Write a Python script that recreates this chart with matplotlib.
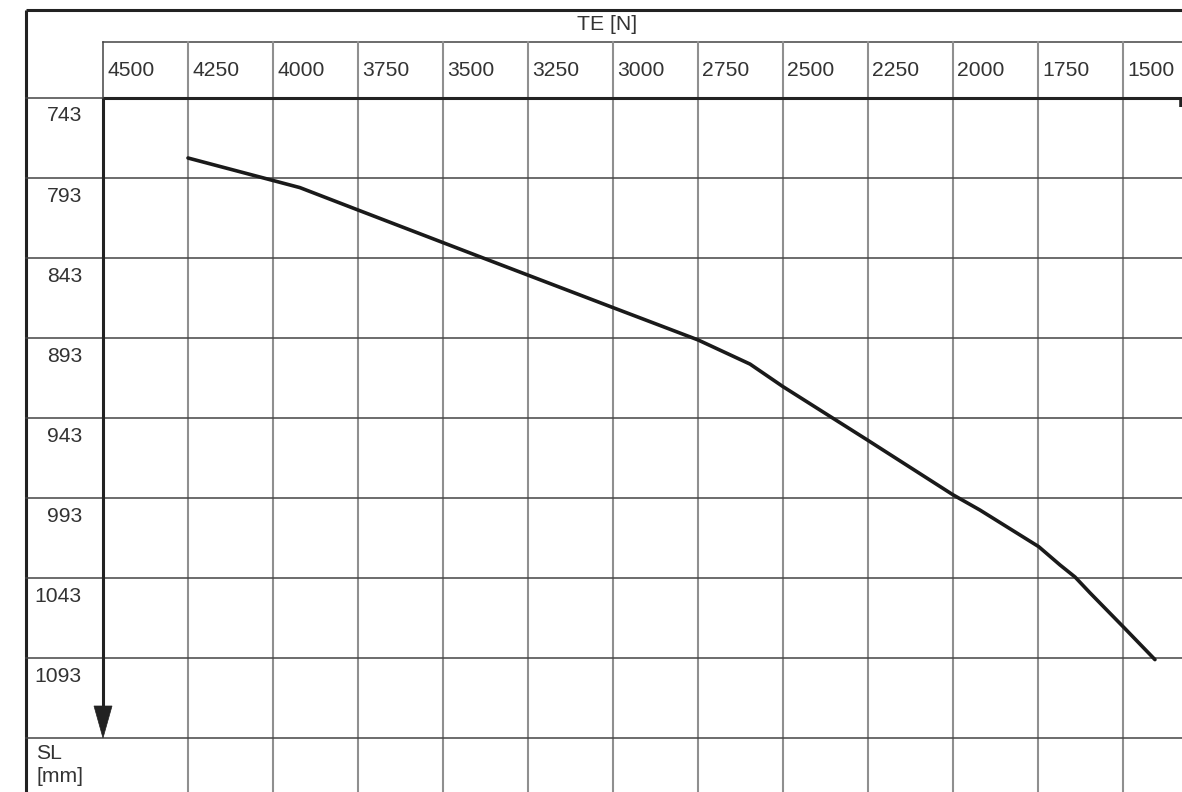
import matplotlib
matplotlib.use('Agg')
import matplotlib.pyplot as plt
from matplotlib.patches import Polygon
from matplotlib.transforms import blended_transform_factory, offset_copy, Affine2D

# ---------------- data ----------------
te_ticks = [4500, 4250, 4000, 3750, 3500, 3250, 3000, 2750, 2500, 2250, 2000, 1750, 1500]
sl_ticks = [743, 793, 843, 893, 943, 993, 1043, 1093]
te_curve = [4250, 3921, 3750, 3382, 3000, 2891, 2750, 2597, 2500, 2250, 2000, 1921,
            1748, 1685, 1641, 1597, 1497, 1406]
sl_curve = [780.5, 799, 813, 843, 874, 882.8, 894.2, 909.3, 923.4, 957, 991, 1000.5,
            1023.4, 1034.9, 1042.4, 1052.3, 1074, 1094]
x_title = 'TE [N]'
y_title = 'SL\n[mm]'

# ---------------- layout ----------------
W, H = 1182, 792
plt.rcParams['font.family'] = ['Liberation Sans', 'DejaVu Sans']
fig = plt.figure(figsize=(W / 100, H / 100), dpi=100)

L, T = 103, 98            # axis origin in pixels (top-left origin)
FRAME_L, FRAME_T = 26, 10
HEAD_Y = 42
px_per_te = 85 / 250
px_per_sl = 80 / 50

ax = fig.add_axes([L / W, 0, 1 - L / W, (H - T) / H])
ax.set_xlim(te_ticks[0], te_ticks[0] - (W - L) / px_per_te)
ax.set_ylim(sl_ticks[0] + (H - T) / px_per_sl, sl_ticks[0])
ax.axis('off')

pix = Affine2D().scale(1 / W, -1 / H).translate(0, 1) + fig.transFigure
x_data_y_pix = blended_transform_factory(ax.transData, pix)
x_pix_y_data = blended_transform_factory(pix, ax.transData)

dark = '#222222'
grid_v = '#8f8f8f'
grid_h = '#444444'
txt = '#333333'
fs = 15.2

# outer frame
ax.plot([FRAME_L, W], [FRAME_T, FRAME_T], transform=pix, color=dark, lw=2.2, clip_on=False, solid_capstyle='butt')
ax.plot([FRAME_L, FRAME_L], [FRAME_T, H], transform=pix, color=dark, lw=2.2, clip_on=False, solid_capstyle='butt')

# header row line
ax.plot([L, W], [HEAD_Y, HEAD_Y], transform=pix, color=grid_h, lw=1.1, clip_on=False)

# vertical grid lines
for t in te_ticks[1:]:
    ax.plot([t, t], [HEAD_Y, H], transform=x_data_y_pix, color=grid_v, lw=1.5, clip_on=False)
ax.plot([te_ticks[0], te_ticks[0]], [HEAD_Y, T], transform=x_data_y_pix, color=grid_h, lw=1.1, clip_on=False)

# horizontal grid lines (including row for axis title)
step_sl = sl_ticks[1] - sl_ticks[0]
rows = sl_ticks[1:] + [sl_ticks[-1] + step_sl]
for s in rows:
    ax.plot([FRAME_L, W], [s, s], transform=x_pix_y_data, color=grid_h, lw=1.1, clip_on=False)
ax.plot([FRAME_L, L], [sl_ticks[0], sl_ticks[0]], transform=x_pix_y_data, color=grid_h, lw=1.1, clip_on=False)

# x axis (thick) with end marker
ax.plot([L, W - 2], [sl_ticks[0], sl_ticks[0]], transform=x_pix_y_data, color=dark, lw=2.2, clip_on=False,
        solid_capstyle='butt')
ax.plot([W - 1.5, W - 1.5], [T - 1, T + 9], transform=pix, color=dark, lw=2.6, clip_on=False,
        solid_capstyle='butt')

# y axis with arrow head (drawn in pixel space)
head_len, head_half = 32, 9
tip_y = ax.transData.transform((te_ticks[0], rows[-1]))[1]
tip_y = H - tip_y
ax.plot([L, L], [T, tip_y - head_len + 1], transform=pix, color=dark, lw=2.2, clip_on=False,
        solid_capstyle='butt')
ax.add_patch(Polygon([(L - head_half, tip_y - head_len), (L + head_half, tip_y - head_len), (L, tip_y)],
                     closed=True, transform=pix, facecolor=dark, edgecolor=dark, lw=0.5, clip_on=False,
                     zorder=6))

# tick labels along top
for t in te_ticks:
    ax.text(t, 70, str(t), transform=offset_copy(x_data_y_pix, fig=fig, x=4, y=0, units='dots'),
            ha='left', va='center', fontsize=fs, color=txt, clip_on=False)

# row labels
for s in sl_ticks:
    ax.text(82, s, str(s), transform=offset_copy(x_pix_y_data, fig=fig, x=0, y=-18, units='dots'),
            ha='right', va='center', fontsize=fs, color=txt, clip_on=False)

# titles
ax.text(607, 25, x_title, transform=pix, ha='center', va='center', fontsize=fs, color=txt)
ax.text(36, rows[-1], y_title, transform=offset_copy(x_pix_y_data, fig=fig, x=0, y=-6, units='dots'),
        ha='left', va='top', fontsize=fs, color=txt, linespacing=1.3)

# curve
ax.plot(te_curve, sl_curve, color='#1a1a1a', lw=2.6, solid_capstyle='round', solid_joinstyle='round', zorder=5)

fig.savefig('out.png', dpi=100)
